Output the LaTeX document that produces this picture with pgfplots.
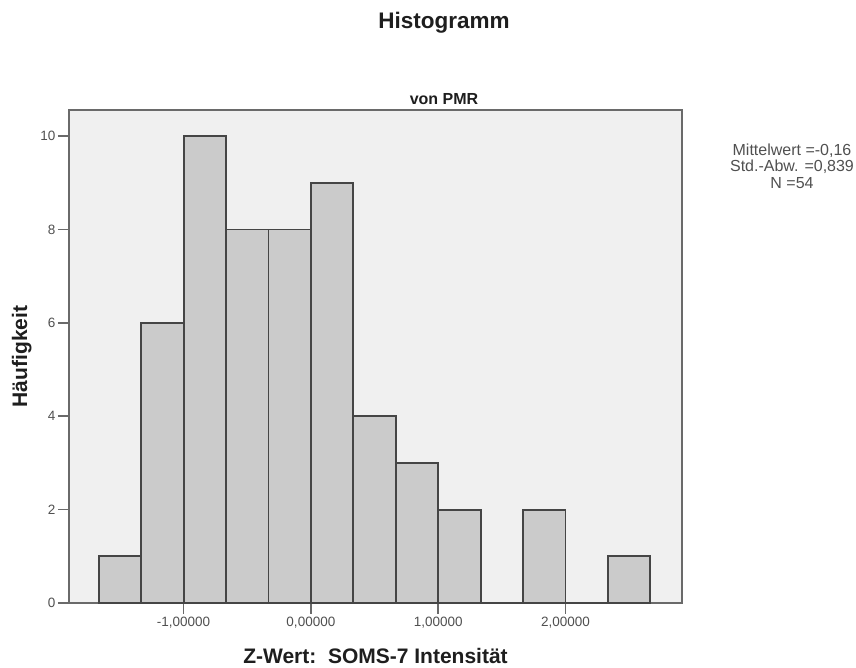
\documentclass[border=0pt]{standalone}
\usepackage{pgfplots}
\pgfplotsset{compat=1.18}
\usepackage{fontspec}
\setmainfont{Liberation Sans}
\definecolor{plotbg}{HTML}{F0F0F0}
\definecolor{barfill}{HTML}{CBCBCB}
\definecolor{baredge}{HTML}{454545}
\definecolor{axisgray}{HTML}{6A6A6A}
\definecolor{txt}{HTML}{1E1E1E}
\definecolor{ticktxt}{HTML}{505050}
\begin{document}
\begin{tikzpicture}[x=1pt,y=1pt]
\path[use as bounding box] (0,0) rectangle (856,668);
\begin{axis}[
  at={(69pt,65pt)}, anchor=south west,
  width=613pt, height=493pt, scale only axis,
  xmin=-1.90, xmax=2.915, ymin=0, ymax=10.56,
  axis background/.style={fill=plotbg},
  axis line style={draw=axisgray, line width=2.4pt},
  tick style={draw=axisgray, line width=1.6pt},
  tick align=outside, major tick length=11pt,
  xtick pos=bottom, ytick pos=left,
  xtick={-1,0,1,2},
  xticklabels={{-1,00000},{0,00000},{1,00000},{2,00000}},
  ytick={0,2,4,6,8,10},
  /pgf/number format/assume math mode=true,
  tick label style={font=\fontsize{13.5}{15}\selectfont, text=ticktxt},
  xticklabel style={yshift=0pt},
  yticklabel style={xshift=1pt},
  ylabel={Häufigkeit},
  ylabel style={font=\bfseries\fontsize{21}{24}\selectfont, text=txt, at={(axis description cs:-0.077,0.5)}, anchor=center},
  xlabel={Z-Wert:\ \ SOMS-7 Intensität},
  xlabel style={font=\bfseries\fontsize{21}{24}\selectfont, text=txt, at={(axis description cs:0.5,-0.107)}, anchor=center},
  clip=false,
]
\addplot[ybar interval, fill=barfill, draw=baredge, line width=1.9pt] coordinates {
  (-1.6667,1) (-1.3333,6) (-1.0,10) (-0.6667,8) (-0.3333,8) (0.0,9)
  (0.3333,4) (0.6667,3) (1.0,2) (1.3333,0) (1.6667,2) (2.0,0) (2.3333,1) (2.6667,0)
};
\end{axis}
\node[font=\bfseries\fontsize{22.5}{26}\selectfont, text=txt] at (444,645) {Histogramm};
\node[font=\bfseries\fontsize{16}{18}\selectfont, text=txt] at (444,569) {von PMR};
\node[font=\fontsize{16}{16.5}\selectfont, text=ticktxt, align=center] at (792,502) {Mittelwert =-0,16\\Std.-Abw. =0,839\\N =54};
\end{tikzpicture}
\end{document}
